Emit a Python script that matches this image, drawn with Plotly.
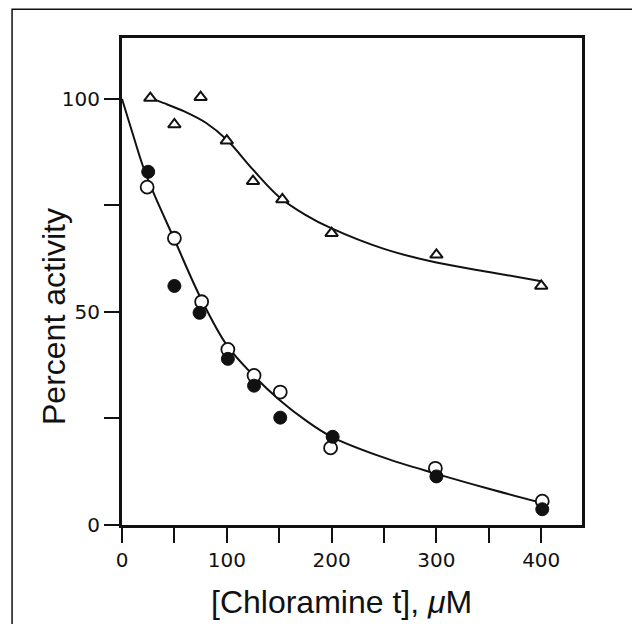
import plotly.graph_objects as go

# data
conc_tri = [27, 50, 75, 100, 125, 153, 200, 300, 400]
act_tri = [100.2, 94.0, 100.4, 90.2, 80.7, 76.4, 68.5, 63.4, 56.1]

conc_open = [24, 50, 76, 101, 126, 151, 199, 299, 401]
act_open = [79.3, 67.3, 52.4, 41.2, 35.1, 31.2, 18.1, 13.3, 5.6]

conc_filled = [25, 50, 74, 101, 126, 151, 201, 300, 401]
act_filled = [82.9, 56.1, 49.8, 39.0, 32.7, 25.2, 20.7, 11.4, 3.7]

# fitted curves (traced)
curve_upper_x = [27, 40, 60, 80, 100, 125, 150, 175, 200, 250, 300, 350, 400]
curve_upper_y = [100.2, 99.0, 97.0, 94.4, 90.4, 83.4, 77.0, 72.8, 69.6, 64.8, 61.6, 59.4, 57.2]

curve_lower_x = [0, 10, 20, 30, 50, 75, 100, 125, 150, 175, 200, 250, 300, 350, 400]
curve_lower_y = [100, 92.0, 84.2, 78.0, 67.0, 53.3, 42.2, 35.2, 29.4, 24.6, 20.7, 15.8, 12.0, 8.5, 5.2]

x_ticks = [0, 50, 100, 150, 200, 250, 300, 350, 400]
x_ticktext = ["0", "", "100", "", "200", "", "300", "", "400"]
y_ticks = [0, 25, 50, 75, 100]
y_ticktext = ["0", "", "50", "", "100"]

ink = "#111111"

fig = go.Figure()

fig.add_trace(go.Scatter(x=curve_upper_x, y=curve_upper_y, mode="lines",
                         line=dict(color=ink, width=2, shape="spline", smoothing=1.0)))
fig.add_trace(go.Scatter(x=curve_lower_x, y=curve_lower_y, mode="lines",
                         line=dict(color=ink, width=2, shape="spline", smoothing=1.0)))

fig.add_trace(go.Scatter(x=conc_tri, y=act_tri, mode="markers",
                         marker=dict(symbol="triangle-up", size=11, color="white",
                                     line=dict(color=ink, width=2))))
fig.add_trace(go.Scatter(x=conc_open, y=act_open, mode="markers",
                         marker=dict(symbol="circle", size=13, color="white",
                                     line=dict(color=ink, width=1.8))))
fig.add_trace(go.Scatter(x=conc_filled, y=act_filled, mode="markers",
                         marker=dict(symbol="circle", size=13, color=ink,
                                     line=dict(color=ink, width=1))))

fig.update_xaxes(range=[0, 438.9], tickmode="array", tickvals=x_ticks, ticktext=x_ticktext,
                 ticks="outside", ticklen=15, tickwidth=2, tickcolor=ink,
                 showline=True, linewidth=3, linecolor=ink, mirror=True,
                 showgrid=False, zeroline=False,
                 tickfont=dict(family="DejaVu Sans", size=20, color=ink))
fig.update_yaxes(range=[0, 114.3], tickmode="array", tickvals=y_ticks, ticktext=y_ticktext,
                 ticks="outside", ticklen=15, tickwidth=2, tickcolor=ink,
                 showline=True, linewidth=3, linecolor=ink, mirror=True,
                 showgrid=False, zeroline=False,
                 tickfont=dict(family="DejaVu Sans", size=20, color=ink))

# axis titles placed as annotations (the y title sits closer than the widest tick label)
title_font = dict(family="Liberation Sans", size=32, color=ink)
fig.add_annotation(text="Percent activity", xref="paper", yref="paper", x=-0.148, y=0.429,
                   xanchor="center", yanchor="middle", textangle=-90, showarrow=False,
                   font=title_font)
fig.add_annotation(text="[Chloramine t], <i>μ</i>M", xref="paper", yref="paper", x=0.478, y=-0.159,
                   xanchor="center", yanchor="middle", showarrow=False, font=title_font)

# outer frame of the figure panel
fig.add_shape(type="rect", xref="paper", yref="paper", x0=-0.239, x1=1.3, y0=-0.4, y1=1.059,
              line=dict(color=ink, width=1.5), layer="below")

fig.update_layout(width=632, height=624, showlegend=False,
                  margin=dict(l=122, r=50, t=38, b=99),
                  plot_bgcolor="white", paper_bgcolor="white")

fig.write_html("out.html", config={"displayModeBar": False},
               post_script="document.body.style.margin='0px';")
